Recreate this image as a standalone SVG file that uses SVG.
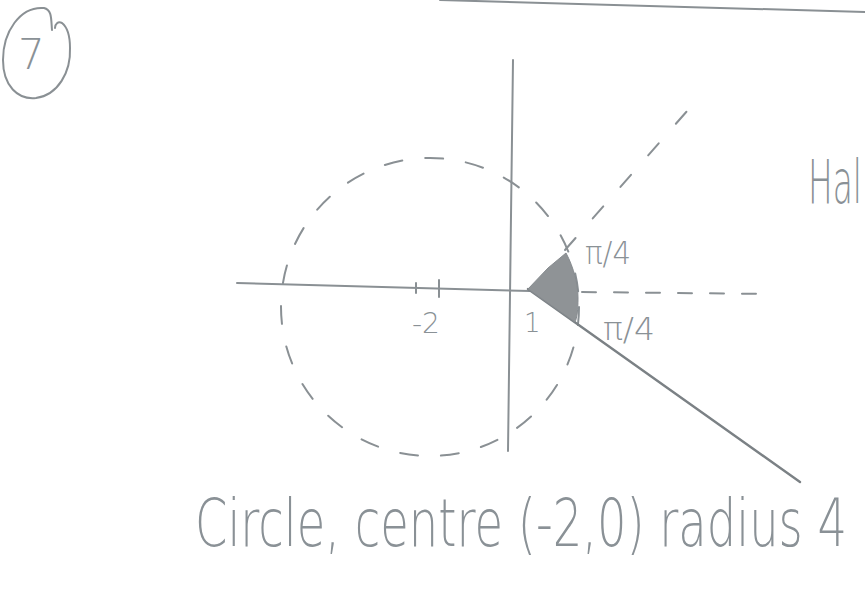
<svg xmlns="http://www.w3.org/2000/svg" width="865" height="597" viewBox="0 0 865 597">
<style>
.pen{fill:none;stroke:#8a9094;stroke-width:2;stroke-linecap:round}
.solid{fill:none;stroke:#7b8185;stroke-width:2.4;stroke-linecap:round}
.hand{font-family:"DejaVu Sans","Liberation Sans",sans-serif;font-weight:200;fill:#8a9196}
</style>
<rect width="865" height="597" fill="#ffffff"/>
<g id="page-edge"><path class="pen" d="M440,0 L865,12" stroke-width="1.5"/></g>
<g id="number-badge">
<path class="pen" d="M52,30 C51,18 52,10 44,8 C20,6 3,32 3,60 C3,86 18,100 36,98 C58,95 71,72 70,48 C70,36 67,27 62,23 C58,21 55,24 55,28"/>
<text class="hand" x="18" y="69" font-size="42">7</text>
</g>
<g id="axes">
<path class="pen" d="M237,283 L530,291"/>
<path class="pen" d="M513,60 L508,451"/>
<path class="pen" d="M439,280 L439,297" stroke-width="2.4"/>
<path class="pen" d="M416,283 L416,293" stroke-width="1.2"/>
<text class="hand" x="412" y="333" font-size="28">-2</text>
</g>
<g id="circle">
<circle class="pen" cx="430" cy="307" r="149" stroke-dasharray="18 23"/>
</g>
<g id="connectors">
<path class="pen" d="M565,250 L695,102" stroke-dasharray="16 26"/>
<path class="pen" d="M582,292 L772,294" stroke-dasharray="14 18"/>
<path class="solid" d="M528,289 L800,482"/>
</g>
<g id="wedge">
<path d="M528,289 L548,268 L566,253 C574,268 578,285 578,298 C578,310 577,318 575,322 Z" fill="#8f9396" stroke="#868b8f" stroke-width="1"/>
</g>
<g id="labels">
<text class="hand" x="524" y="332" font-size="26">1</text>
<text class="hand" x="585" y="264" font-size="32" textLength="46" lengthAdjust="spacingAndGlyphs">π/4</text>
<text class="hand" x="603" y="340" font-size="32" textLength="52" lengthAdjust="spacingAndGlyphs">π/4</text>
<text class="hand" x="808" y="203" font-size="60" textLength="54" lengthAdjust="spacingAndGlyphs">Hal</text>
<text class="hand" x="195" y="546" font-size="66" textLength="652" lengthAdjust="spacingAndGlyphs">Circle, centre (-2,0) radius 4</text>
</g>
</svg>
